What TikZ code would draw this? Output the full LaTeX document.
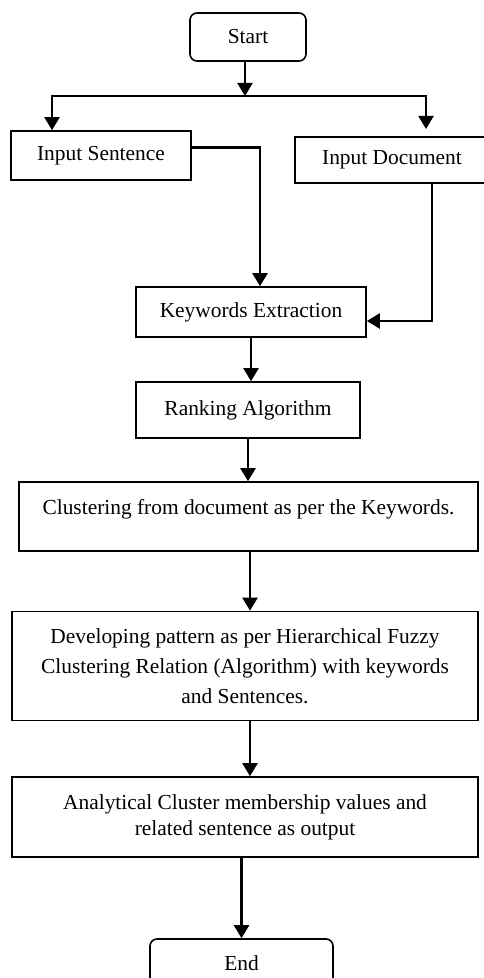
\documentclass[tikz,border=0pt]{standalone}
\usepackage{fontspec}
\setmainfont{Liberation Serif}
\usetikzlibrary{arrows.meta}

\begin{document}
\begin{tikzpicture}[x=0.5pt, y=-0.5pt,
  box/.style={draw, line width=0.8pt, inner sep=0pt, align=center, font=\fontsize{10.7}{14.5}\selectfont},
  term/.style={box, rounded corners=3.5pt},
  flow/.style={line width=1.1pt, -{Triangle[length=6.5pt,width=7.5pt]}}]
  \useasboundingbox (0,0) rectangle (483,978);

  \node[term, minimum width=58pt, minimum height=24pt] (start) at (248,37) {Start};
  \node[box, minimum width=90pt, minimum height=24.5pt] (sent) at (101,155.5) {Input Sentence};
  \node[box, minimum width=97pt, minimum height=23pt] (doc) at (392,160) {Input Document};
  \node[box, minimum width=115pt, minimum height=25pt] (kw) at (251,312) {Keywords Extraction};
  \node[box, minimum width=112pt, minimum height=28pt] (rank) at (248,410) {Ranking Algorithm};
  \node[box, minimum width=229.5pt, minimum height=34.5pt, text height=7.5pt, text depth=10pt] (clus) at (248.5,516.5)
    {Clustering from document as per the Keywords.};
  \node[box, minimum width=233pt, minimum height=54.5pt, font=\fontsize{10.7}{15}\selectfont] (devel) at (245,666)
    {Developing pattern as per Hierarchical Fuzzy\\ Clustering Relation (Algorithm) with keywords\\ and Sentences.};
  \node[box, minimum width=233pt, minimum height=40pt, font=\fontsize{10.7}{13}\selectfont] (anal) at (245,817)
    {Analytical Cluster membership values and\\ related sentence as output};
  \node[term, minimum width=91.5pt, minimum height=24pt] (stop) at (241.5,963) {End};

  \coordinate (split) at (245,96);
  \coordinate (splitl) at (52,96);
  \coordinate (docin) at (426,129);
  \coordinate (mid) at (250,0);

  \draw[flow] (start.south -| split) -- (split);
  \draw[flow] (split) -| (splitl |- sent.north);
  \draw[flow] (split) -| (docin);
  \draw[flow] (sent.5) -| ([xshift=4.5pt]kw.north);
  \draw[flow] ([xshift=20pt]doc.south) |- ([yshift=-4.5pt]kw.east);
  \path[flow]
  (kw.south) edge (kw.south |- rank.north)
  (rank.south) edge (rank.south |- clus.north)
  (clus.south -| mid) edge (devel.north -| mid)
  (devel.south -| mid) edge (anal.north -| mid)
  ;
  \draw[flow] (anal.south -| stop.north) -- (stop.north);
\end{tikzpicture}
\end{document}
